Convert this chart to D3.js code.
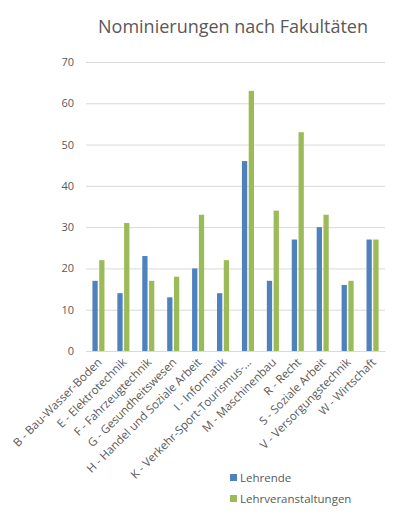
<!DOCTYPE html>
<html><head><meta charset="utf-8">
<script src="https://cdn.jsdelivr.net/npm/d3@7"></script>
<style>body{margin:0;background:#fff}svg{display:block}text{font-family:"Open Sans",sans-serif}</style>
</head><body>
<svg id="c" width="397" height="515"></svg>
<script>
const categories = ["B - Bau-Wasser-Boden","E - Elektrotechnik","F - Fahrzeugtechnik","G - Gesundheitswesen","H - Handel und Soziale Arbeit","I - Informatik","K - Verkehr-Sport-Tourismus-...","M - Maschinenbau","R - Recht","S - Soziale Arbeit","V - Versorgungstechnik","W - Wirtschaft"];
const lehrende = [17,14,23,13,20,14,46,17,27,30,16,27];
const lehrveranstaltungen = [22,31,17,18,33,22,63,34,53,33,17,27];
const seriesNames = ["Lehrende","Lehrveranstaltungen"];
const seriesColors = ["#4F81BD","#9BBB59"];
const yTicks = [0,10,20,30,40,50,60,70];

const svg = d3.select("#c");
const x = d3.scaleBand().domain(categories).range([86,385]);
const y = d3.scaleLinear().domain([0,70]).range([351,62]);
const inner = d3.scaleBand().domain(seriesNames).range([0,x.bandwidth()]).paddingInner(0.22).paddingOuter(0.95);

svg.append("text").attr("x",233).attr("y",33).attr("text-anchor","middle")
  .attr("font-size",18).attr("fill","#595959").text("Nominierungen nach Fakultäten");

const yAxis = svg.append("g").attr("transform","translate(86,0)")
  .call(d3.axisLeft(y).tickValues(yTicks).tickSize(-299).tickPadding(12));
yAxis.select(".domain").remove();
yAxis.selectAll(".tick line").attr("stroke","#D9D9D9").attr("stroke-width",1);
yAxis.selectAll(".tick text").attr("fill","#595959").attr("font-size",11).style("font-family","Open Sans");

const data = [lehrende, lehrveranstaltungen];
data.forEach((vals,si)=>{
  svg.append("g").selectAll("rect").data(vals).join("rect")
    .attr("x",(d,i)=>x(categories[i])+inner(seriesNames[si]))
    .attr("width",inner.bandwidth())
    .attr("y",d=>y(d)).attr("height",d=>y(0)-y(d))
    .attr("fill",seriesColors[si]);
});

const xAxis = svg.append("g").attr("transform","translate(0,351)")
  .call(d3.axisBottom(x).tickSize(0).tickPadding(0));
xAxis.select(".domain").attr("stroke","#D9D9D9");
xAxis.selectAll(".tick text").attr("fill","#595959").attr("font-size",11.5).style("font-family","Open Sans")
  .attr("text-anchor","end").attr("dy",0).attr("y",0)
  .attr("transform","translate(4,12) rotate(-45)");

const leg = svg.append("g");
seriesNames.forEach((n,i)=>{
  leg.append("rect").attr("x",230).attr("y",474+i*21).attr("width",7).attr("height",7).attr("fill",seriesColors[i]);
  leg.append("text").attr("x",240).attr("y",482+i*21).attr("font-size",11.5).attr("fill","#595959").text(n);
});
</script>
</body></html>
